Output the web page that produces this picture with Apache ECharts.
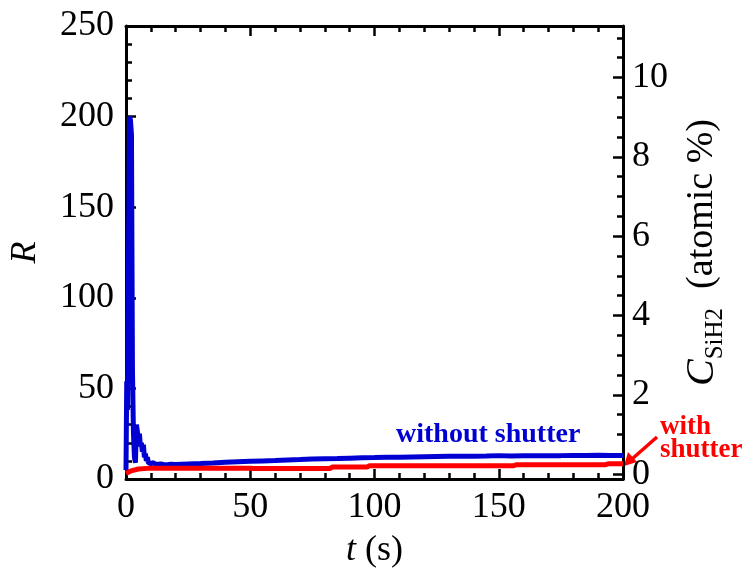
<!DOCTYPE html>
<html lang="en">
<head>
    <meta charset="UTF-8">
    <title>R vs t</title>
    <style>
        html, body { margin: 0; padding: 0; background: white; }
        #fig { width: 750px; height: 574px; }
    </style>
    <script src="https://cdn.jsdelivr.net/npm/echarts@6/dist/echarts.min.js"></script>
</head>
<body>
<div id="fig"></div>
<script>
    // 无快门 (without shutter)
    const blueT = [0, 0.3, 0.6, 1.0, 1.4, 1.8, 2.2, 2.6, 3.0, 3.4, 3.8, 4.2, 4.6, 5.0, 5.4, 5.8, 6.2, 6.6, 7.0, 7.4,
        7.8, 8.2, 8.6, 9.0, 9.5, 10, 11, 12, 14, 16, 18, 20, 25, 30, 35, 40, 45, 50, 55, 60, 65, 70, 75, 80, 85, 90,
        95, 100, 105, 110, 115, 120, 125, 130, 135, 140, 145, 150, 155, 160, 165, 170, 175, 180, 185, 190, 195, 200];
    const blueR = [5, 54, 38, 120, 200, 198, 190, 60, 25, 12, 9, 30, 29, 22, 25, 18, 20, 15, 19, 12,
        14, 10, 12, 9, 10, 8.5, 9, 8, 8.3, 7.8, 8.2, 8, 8.3, 8.5, 8.8, 9.2, 9.5, 9.8, 10, 10.2, 10.5, 10.7, 11, 11.2, 11.3, 11.5,
        11.7, 11.8, 12, 12, 12.2, 12.3, 12.4, 12.5, 12.5, 12.6, 12.7, 12.9, 12.7, 12.8, 12.8, 12.9, 12.9, 13, 13, 13.1, 13, 13];

    // 有快门 (with shutter)
    const redT = [0, 2, 5, 10, 50, 51, 82, 83, 97, 98, 156, 157, 193, 194, 200];
    const redR = [3, 4.5, 5.5, 6, 6, 5.8, 5.8, 6.6, 6.6, 7.3, 7.3, 7.9, 7.9, 8.4, 8.4];

    // 右轴刻度
    const rightMajor = [0, 2, 4, 6, 8, 10];
    const rightMinor = [0.5, 1, 1.5, 2.5, 3, 3.5, 4.5, 5, 5.5, 6.5, 7, 7.5, 8.5, 9, 9.5, 10.5, 11];

    const font = 'Liberation Serif';
    const blue = '#0000d2';
    const red = '#ff0000';

    function pairs(xs, ys) {
        return xs.map((x, i) => [x, ys[i]]);
    }

    const fig = echarts.init(document.getElementById('fig'), null, {renderer: 'canvas'});

    const axisLine = {show: true, onZero: false, lineStyle: {color: '#000', width: 3}};
    const tick = {show: true, inside: true, length: 10, lineStyle: {color: '#000', width: 2.5}};
    const minor = {show: true, splitNumber: 5, length: 6, lineStyle: {color: '#000', width: 2.5}};
    const label = {fontFamily: font, fontSize: 36, color: '#000'};

    fig.setOption({
        animation: false,
        backgroundColor: '#fff',
        grid: {left: 125, right: 127, top: 26, bottom: 92, containLabel: false},
        xAxis: [{
            type: 'value', min: 0, max: 200, interval: 50,
            axisLine: axisLine, axisTick: tick, minorTick: minor,
            axisLabel: Object.assign({margin: 11}, label),
            splitLine: {show: false},
            name: '{i|t} (s)', nameLocation: 'middle', nameGap: 54,
            nameTextStyle: {fontFamily: font, fontSize: 36, color: '#000',
                rich: {i: {fontFamily: font, fontSize: 36, fontStyle: 'italic', color: '#000'}}}
        }, {
            type: 'value', position: 'top', min: 0, max: 200, interval: 50,
            axisLine: axisLine, axisTick: tick, minorTick: minor,
            axisLabel: {show: false}, splitLine: {show: false}
        }],
        yAxis: [{
            type: 'value', min: 0, max: 250, interval: 50,
            axisLine: axisLine, axisTick: tick, minorTick: minor,
            axisLabel: Object.assign({margin: 12}, label),
            splitLine: {show: false},
            name: 'R', nameLocation: 'middle', nameGap: 82, nameRotate: 90,
            nameTextStyle: {fontFamily: font, fontSize: 36, fontStyle: 'italic', color: '#000'}
        }, {
            type: 'value', position: 'right', min: -0.12, max: 11.3,
            axisLine: axisLine,
            axisTick: Object.assign({}, tick, {customValues: rightMajor}),
            axisLabel: Object.assign({margin: 9, customValues: rightMajor}, label),
            splitLine: {show: false},
            name: '{i|C}{sub|SiH2}  (atomic %)', nameLocation: 'middle', nameGap: 54, nameRotate: 90,
            nameTextStyle: {fontFamily: font, fontSize: 38, color: '#000',
                rich: {
                    i: {fontFamily: font, fontSize: 40, fontStyle: 'italic', color: '#000'},
                    sub: {fontFamily: font, fontSize: 25, color: '#000', verticalAlign: 'bottom', padding: [26, 0, 0, 0]}
                }}
        }, {
            type: 'value', position: 'right', min: -0.12, max: 11.3,
            axisLine: {show: false, onZero: false},
            axisTick: Object.assign({}, tick, {length: 6, customValues: rightMinor}),
            axisLabel: {show: false},
            splitLine: {show: false}
        }],
        series: [{
            name: 'without shutter', type: 'line', xAxisIndex: 0, yAxisIndex: 0,
            data: pairs(blueT, blueR), showSymbol: false,
            lineStyle: {color: blue, width: 5}, z: 2
        }, {
            name: 'with shutter', type: 'line', xAxisIndex: 0, yAxisIndex: 0,
            data: pairs(redT, redR), showSymbol: false,
            lineStyle: {color: red, width: 5}, z: 3
        }],
        graphic: [{
            type: 'text', left: 396, top: 421,
            style: {text: 'without shutter', fontFamily: font, fontSize: 28, fontWeight: 'bold', fill: blue}
        }, {
            type: 'text', left: 660, top: 414,
            style: {text: 'with\nshutter', fontFamily: font, fontSize: 27, fontWeight: 'bold', fill: red,
                lineHeight: 23, align: 'left'}
        }, {
            type: 'line',
            shape: {x1: 657, y1: 437, x2: 632, y2: 459},
            style: {stroke: red, lineWidth: 3.5}
        }, {
            type: 'polygon',
            shape: {points: [[624, 466], [628, 452], [637, 462]]},
            style: {fill: red}
        }]
    });
</script>
</body>
</html>
